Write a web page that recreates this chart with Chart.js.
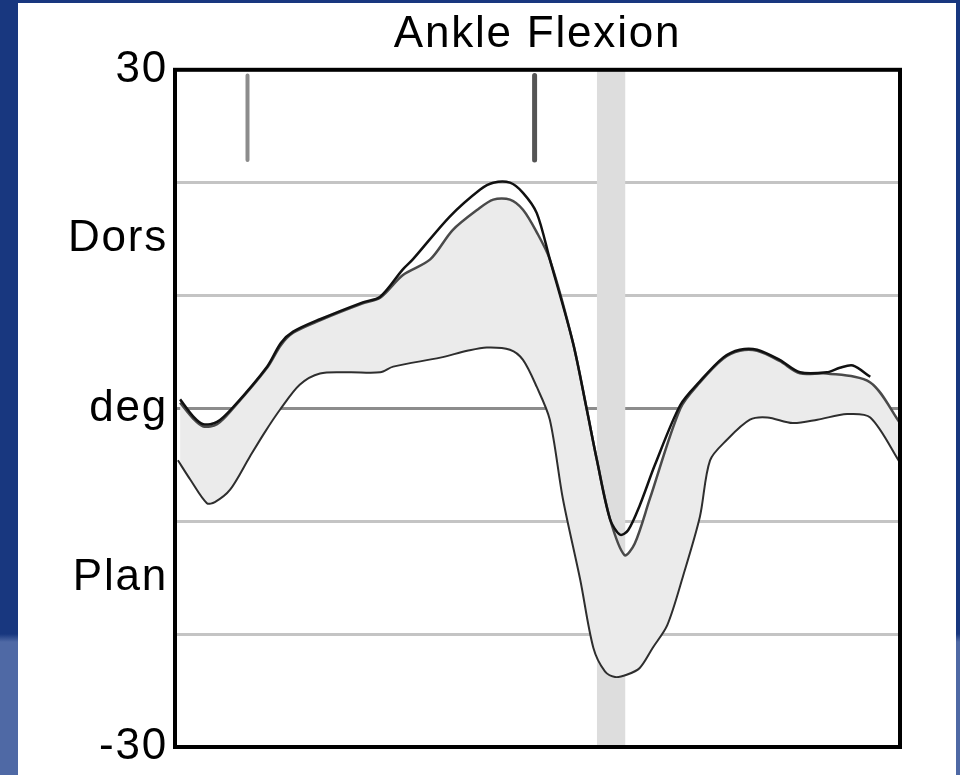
<!DOCTYPE html>
<html>
<head>
<meta charset="utf-8">
<script src="https://cdn.jsdelivr.net/npm/chart.js@4/dist/chart.umd.min.js"></script>
<style>
    body {
        margin: 0;
        width: 960px;
        height: 775px;
        overflow: hidden;
        position: relative;
        background: linear-gradient(to bottom, #18377f 0, #18377f 634px, #4f69a5 642px, #4f69a5 100%);
    }
    #panel {
        position: absolute;
        left: 18px;
        top: 3px;
        width: 938px;
        height: 772px;
        background: #ffffff;
    }
    #ankleChart {
        position: absolute;
        left: 0;
        top: 0;
    }
</style>
</head>
<body>
<div id="panel"></div>
<canvas id="ankleChart" width="960" height="775"></canvas>
<script>
// Gait cycle (%) and ankle angle (deg)
const meanPct = [0.7, 2.5, 3.9, 5.8, 8.0, 12.7, 14.6, 16.3, 20.0, 25.9, 28.3, 31.4, 32.8, 37.9, 42.1, 43.9, 46.2, 48.0, 49.9, 51.7, 54.9, 56.8, 58.2, 60.0, 61.4, 62.5, 64.1, 66.2, 69.7, 72.4, 75.6, 77.9, 80.3, 83.4, 86.2, 89.9, 91.7, 93.5, 95.9];
const meanDeg = [0.8, -0.7, -1.4, -1.2, 0.1, 3.7, 5.8, 6.8, 7.9, 9.4, 9.9, 12.3, 13.2, 17.0, 19.4, 20.0, 20.0, 19.1, 17.3, 13.2, 5.8, -0.1, -4.6, -9.8, -11.2, -10.8, -8.6, -5.0, 0.3, 2.4, 4.5, 5.2, 5.2, 4.3, 3.2, 3.2, 3.6, 3.8, 2.8];

const upperPct = [0.7, 2.5, 3.9, 5.8, 8.0, 12.7, 14.6, 16.3, 20.0, 25.9, 28.3, 31.4, 35.2, 38.3, 41.7, 43.9, 46.2, 48.0, 49.9, 51.7, 54.9, 56.8, 58.2, 60.0, 62.0, 63.4, 65.5, 69.7, 72.4, 75.6, 77.9, 80.3, 83.4, 86.2, 89.9, 95.9, 100];
const upperDeg = [0.5, -0.9, -1.6, -1.4, 0.0, 3.6, 5.6, 6.7, 7.8, 9.3, 9.8, 11.8, 13.2, 15.8, 17.6, 18.5, 18.5, 17.6, 15.6, 13.2, 5.8, -0.1, -4.6, -9.8, -13.0, -12.0, -8.0, 0.0, 2.3, 4.4, 5.1, 5.1, 4.2, 3.1, 3.1, 2.3, -1.3];

const lowerPct = [0.4, 2.1, 4.4, 5.5, 7.6, 10.3, 12.4, 14.5, 17.2, 20.0, 24.1, 28.3, 30.1, 36.6, 40.3, 43.0, 46.2, 48.0, 49.9, 51.7, 53.5, 55.9, 57.7, 59.3, 60.7, 62.3, 64.1, 65.9, 67.9, 70.1, 72.4, 73.8, 76.1, 79.3, 81.7, 85.2, 88.6, 92.7, 95.9, 100];
const lowerDeg = [-4.6, -6.3, -8.4, -8.3, -7.2, -4.3, -2.1, -0.1, 2.1, 3.1, 3.2, 3.2, 3.7, 4.5, 5.1, 5.4, 5.2, 4.3, 1.9, -1.0, -8.0, -15.2, -21.2, -23.3, -23.8, -23.6, -23.0, -21.2, -19.2, -14.8, -9.6, -4.6, -2.8, -1.0, -0.8, -1.3, -1.0, -0.5, -0.8, -4.8];

// Toe-off band and event markers
const toeOffPct = [58.2, 62.1];
const markerPct = [10.0, 49.6];
const markerTop = 29.5;
const markerBottom = 22.0;

// Axis ticks
const gridValues = [-30, -20, -10, 0, 10, 20, 30];
const labelValues = [30, 15, 0, -15, -30];
const labelText = ["30", "Dors", "deg", "Plan", "-30"];

const FONT = "'Liberation Sans', Arial, sans-serif";

function toPoints(xs, ys) {
    return xs.map((x, i) => ({ x: x, y: ys[i] }));
}

// Light grey toe-off band, under the curves
const toeOffBand = {
    id: "toeOffBand",
    beforeDraw(chart) {
        chart.ctx.letterSpacing = "1.8px";
    },
    beforeDatasetsDraw(chart) {
        const { ctx, chartArea, scales } = chart;
        const x1 = scales.x.getPixelForValue(toeOffPct[0]);
        const x2 = scales.x.getPixelForValue(toeOffPct[1]);
        ctx.save();
        ctx.fillStyle = "#dddddd";
        ctx.fillRect(x1, chartArea.top, x2 - x1, chartArea.bottom - chartArea.top);
        ctx.restore();
    }
};

// Black box round the plot
const plotFrame = {
    id: "plotFrame",
    afterDraw(chart) {
        const { ctx, chartArea } = chart;
        ctx.save();
        ctx.strokeStyle = "#000000";
        ctx.lineWidth = 4;
        ctx.strokeRect(chartArea.left, chartArea.top, chartArea.right - chartArea.left, chartArea.bottom - chartArea.top);
        ctx.restore();
    }
};

const tickValues = gridValues.concat(labelValues.filter(v => !gridValues.includes(v))).sort((a, b) => a - b);

const ctx = document.getElementById("ankleChart").getContext("2d");
new Chart(ctx, {
    type: "line",
    data: {
        datasets: [
            {
                label: "Lower",
                data: toPoints(lowerPct, lowerDeg),
                borderColor: "#2e2e2e",
                borderWidth: 2,
                pointRadius: 0,
                tension: 0.3,
                fill: false
            },
            {
                label: "Mean",
                data: toPoints(meanPct, meanDeg),
                borderColor: "#111111",
                borderWidth: 2.5,
                pointRadius: 0,
                tension: 0.3,
                fill: false
            },
            {
                label: "Upper",
                data: toPoints(upperPct, upperDeg),
                borderColor: "#4a4a4a",
                borderWidth: 2.5,
                pointRadius: 0,
                tension: 0.3,
                fill: { target: 0 },
                backgroundColor: "#ebebeb"
            },
            {
                label: "Marker 1",
                data: [{ x: markerPct[0], y: markerTop }, { x: markerPct[0], y: markerBottom }],
                borderColor: "#8c8c8c",
                borderWidth: 4,
                borderCapStyle: "round",
                pointRadius: 0,
                fill: false
            },
            {
                label: "Marker 2",
                data: [{ x: markerPct[1], y: markerTop }, { x: markerPct[1], y: markerBottom }],
                borderColor: "#555555",
                borderWidth: 5,
                borderCapStyle: "round",
                pointRadius: 0,
                fill: false
            }
        ]
    },
    options: {
        responsive: false,
        animation: false,
        layout: { padding: { left: 0, right: 60, top: 0, bottom: 28 } },
        plugins: {
            legend: { display: false },
            tooltip: { enabled: false },
            title: {
                display: true,
                text: "Ankle Flexion",
                color: "#000000",
                fullSize: false,
                font: { family: FONT, size: 44, weight: "normal" },
                padding: { top: 8, bottom: 9 }
            }
        },
        scales: {
            x: {
                type: "linear",
                min: 0,
                max: 100,
                display: false
            },
            y: {
                type: "linear",
                min: -30,
                max: 30,
                afterBuildTicks: scale => {
                    scale.ticks = tickValues.map(v => ({ value: v }));
                },
                afterFit: scale => {
                    scale.width = 175;
                    scale.paddingTop = 0;
                    scale.paddingBottom = 0;
                },
                border: { display: false },
                grid: {
                    drawTicks: false,
                    lineWidth: 3,
                    color: c => {
                        const v = c.tick ? c.tick.value : null;
                        if (!gridValues.includes(v) || v === 30 || v === -30) return "rgba(0,0,0,0)";
                        return v === 0 ? "#8c8c8c" : "#c4c4c4";
                    }
                },
                ticks: {
                    autoSkip: false,
                    padding: 7,
                    color: "#000000",
                    font: { family: FONT, size: 44 },
                    callback: value => {
                        const i = labelValues.indexOf(value);
                        return i >= 0 ? labelText[i] : "";
                    }
                }
            }
        }
    },
    plugins: [toeOffBand, plotFrame]
});
</script>
</body>
</html>
